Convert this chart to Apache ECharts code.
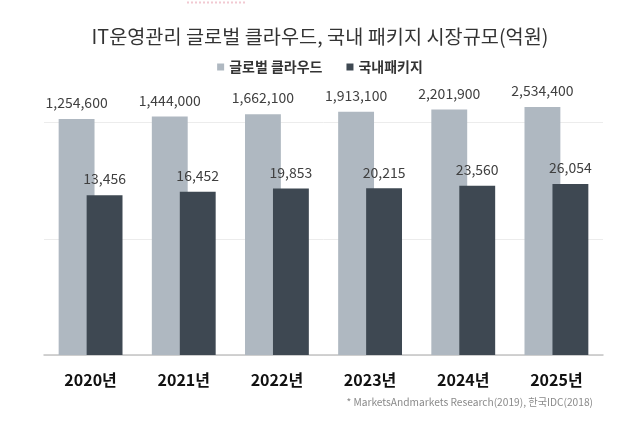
<!DOCTYPE html>
<html>
<head>
<meta charset="utf-8">
<script src="https://cdn.jsdelivr.net/npm/echarts@6/dist/echarts.min.js"></script>
<style>
html,body{margin:0;padding:0;background:#fff;}
#c{width:640px;height:441px;}
</style>
</head>
<body>
<div id="c"></div>
<script>
var titleText = 'IT운영관리 글로벌 클라우드, 국내 패키지 시장규모(억원)';
var categories = ['2020년', '2021년', '2022년', '2023년', '2024년', '2025년'];
var seriesNames = ['글로벌 클라우드', '국내패키지'];
var globalCloud = [1254600, 1444000, 1662100, 1913100, 2201900, 2534400];
var domesticPackage = [13456, 16452, 19853, 20215, 23560, 26054];
var sourceText = '* MarketsAndmarkets Research(2019), 한국IDC(2018)';

var FONT = '"Noto Sans CJK KR", "Noto Sans", sans-serif';
function fmt(p) { return Number(p.value).toLocaleString('en-US'); }

var chart = echarts.init(document.getElementById('c'), null, {renderer: 'canvas'});
chart.setOption({
  backgroundColor: '#ffffff',
  textStyle: {fontFamily: FONT},
  title: {
    text: titleText,
    left: 'center',
    top: 22,
    textStyle: {fontFamily: FONT, fontSize: 19.7, fontWeight: 'normal', color: '#333333'}
  },
  legend: {
    data: seriesNames,
    top: 55,
    left: 'center',
    icon: 'rect',
    itemWidth: 7,
    itemHeight: 7,
    itemGap: 24,
    textStyle: {fontFamily: FONT, fontSize: 14, fontWeight: 'bold', color: '#333333'}
  },
  grid: {left: 44, right: 37, top: 122.7, bottom: 86, containLabel: false},
  xAxis: {
    type: 'category',
    data: categories,
    axisLine: {show: true, lineStyle: {color: '#c4c4c4', width: 1.5}},
    axisTick: {show: false},
    axisLabel: {fontFamily: FONT, fontSize: 16, fontWeight: 'bold', color: '#111111', margin: 17}
  },
  yAxis: {
    type: 'log',
    logBase: 1000,
    min: 1,
    max: 1000000,
    axisLine: {show: false},
    axisTick: {show: false},
    axisLabel: {show: false},
    splitLine: {show: true, lineStyle: {color: '#ececec', width: 1}}
  },
  series: [
    {
      name: seriesNames[0],
      type: 'bar',
      data: globalCloud,
      clip: false,
      barWidth: '38.5%',
      barGap: '-22%',
      itemStyle: {color: '#afb8c1'},
      label: {show: true, position: 'top', distance: 9, formatter: fmt,
        fontFamily: FONT, fontSize: 14, color: '#404040'}
    },
    {
      name: seriesNames[1],
      type: 'bar',
      data: domesticPackage,
      clip: false,
      barWidth: '38.5%',
      barGap: '-22%',
      itemStyle: {color: '#3e4852'},
      label: {show: true, position: 'top', distance: 9, formatter: fmt,
        fontFamily: FONT, fontSize: 14, color: '#404040'}
    }
  ],
  graphic: [
    {
      type: 'text',
      right: 47,
      top: 397,
      style: {text: sourceText, fontFamily: FONT, fontSize: 10.2, fill: '#8a8a8a'}
    },
    {
      type: 'line',
      shape: {x1: 187, y1: 2.5, x2: 247, y2: 2.5},
      style: {stroke: '#f2c9d2', lineWidth: 2, lineDash: [2, 2]}
    }
  ]
});
</script>
</body>
</html>
